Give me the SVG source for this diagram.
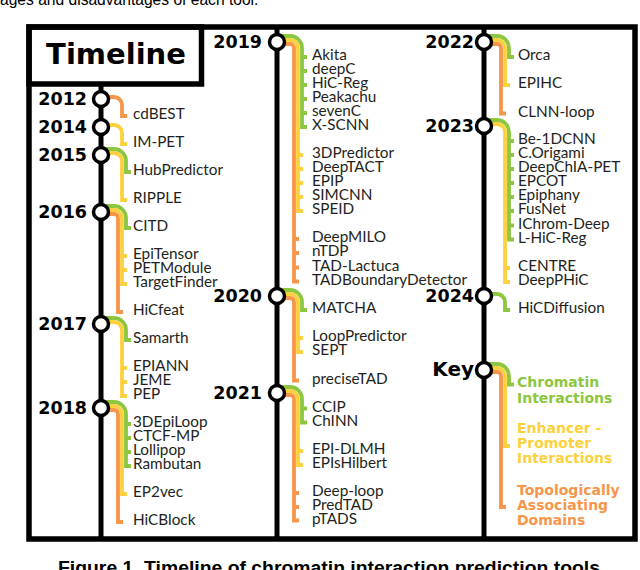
<svg xmlns="http://www.w3.org/2000/svg" width="640" height="570" viewBox="0 0 640 570">
<style>
.bg{fill:#fff}
.frame{fill:none;stroke:#000;stroke-width:5.5}
.col{stroke:#000;stroke-width:5;fill:none}
.node circle{fill:#fff;stroke:#000;stroke-width:3.5}
.yt{font-family:"DejaVu Sans",sans-serif;font-weight:bold;font-size:17.5px;fill:#000;text-anchor:end}
.lbl{font-family:Lato,"Noto Sans",sans-serif;font-size:15.3px;fill:#231f20}
.br{fill:none;stroke-width:3.8;stroke-linejoin:miter;stroke-linecap:butt}
.g{stroke:#8DC63F}
.y{stroke:#FDD13E}
.o{stroke:#F7964A}
.key{font-family:"DejaVu Sans",sans-serif;font-weight:bold;font-size:14px}
.kg{fill:#8DC63F}.ky{fill:#FDD13E}.ko{fill:#F7964A}
.cap{font-family:"Liberation Sans",Arial,sans-serif;fill:#000}
</style>
<rect class="bg" x="0" y="0" width="640" height="570"/>
<text class="cap" x="0" y="5" font-size="15.6">ages and disadvantages of each tool.</text>
<text class="cap" x="58" y="574" font-size="17.5" font-weight="bold" textLength="542" lengthAdjust="spacingAndGlyphs">Figure 1. Timeline of chromatin interaction prediction tools</text>

<g id="frame">
<rect class="frame" x="29" y="27" width="606" height="512"/>
<rect class="frame" x="29" y="27" width="172.5" height="57"/>
<text x="116" y="64" text-anchor="middle" font-family="DejaVu Sans,sans-serif" font-weight="bold" font-size="29" fill="#000">Timeline</text>
</g>

<g id="connectors">
<line class="col" x1="101" y1="84" x2="101" y2="539"/>
<line class="col" x1="277" y1="27" x2="277" y2="539"/>
<line class="col" x1="484" y1="27" x2="484" y2="539"/>

<!-- 2012 -->
<path class="br o" d="M101,97 H114 A8 8 0 0 1 122,105 V116 H127"/>
<!-- 2014 -->
<path class="br y" d="M101,125 H114 A8 8 0 0 1 122,133 V144 H127"/>
<!-- 2015 -->
<path class="br g" d="M101,149 H114 A12 12 0 0 1 126,161 V172 H131"/>
<path class="br y" d="M101,153 H114 A8 8 0 0 1 122,161 V200 H127"/>
<!-- 2016 -->
<path class="br g" d="M101,206 H114 A12 12 0 0 1 126,218 V228 H131"/>
<path class="br y" d="M101,210 H114 A8 8 0 0 1 122,218 V284 H127 M122,256 h5 M122,270 h5"/>
<path class="br o" d="M101,214 H114 A4 4 0 0 1 118,218 V312 H123"/>
<!-- 2017 -->
<path class="br g" d="M101,318 H114 A12 12 0 0 1 126,330 V340 H131"/>
<path class="br y" d="M101,322 H114 A8 8 0 0 1 122,330 V396 H127 M122,368 h5 M122,382 h5"/>
<!-- 2018 -->
<path class="br g" d="M101,402 H114 A12 12 0 0 1 126,414 V466 H131 M126,424 h5 M126,438 h5 M126,452 h5"/>
<path class="br y" d="M101,406 H114 A8 8 0 0 1 122,414 V494 H127"/>
<path class="br o" d="M101,410 H114 A4 4 0 0 1 118,414 V522 H123"/>

<!-- 2019 -->
<path class="br g" d="M277,36 H290 A12 12 0 0 1 302,48 V127 H307 M302,57 h5 M302,71 h5 M302,85 h5 M302,99 h5 M302,113 h5"/>
<path class="br y" d="M277,40 H290 A8 8 0 0 1 298,48 V211 H303 M298,155 h5 M298,169 h5 M298,183 h5 M298,197 h5"/>
<path class="br o" d="M277,44 H290 A4 4 0 0 1 294,48 V281.5 H299 M294,239 h5 M294,253 h5 M294,267.5 h5"/>
<!-- 2020 -->
<path class="br g" d="M277,290 H290 A12 12 0 0 1 302,302 V310 H307"/>
<path class="br y" d="M277,294 H290 A8 8 0 0 1 298,302 V352 H303 M298,338 h5"/>
<path class="br o" d="M277,298 H290 A4 4 0 0 1 294,302 V380.5 H299"/>
<!-- 2021 -->
<path class="br g" d="M277,387 H290 A12 12 0 0 1 302,399 V422.5 H307 M302,408.5 h5"/>
<path class="br y" d="M277,391 H290 A8 8 0 0 1 298,399 V465 H303 M298,451 h5"/>
<path class="br o" d="M277,395 H290 A4 4 0 0 1 294,399 V520.5 H299 M294,493 h5 M294,507 h5"/>

<!-- 2022 -->
<path class="br g" d="M484,36 H497 A12 12 0 0 1 509,48 V57 H514"/>
<path class="br y" d="M484,40 H497 A8 8 0 0 1 505,48 V85 H510"/>
<path class="br o" d="M484,44 H497 A4 4 0 0 1 501,48 V113.5 H506"/>
<!-- 2023 -->
<path class="br g" d="M484,120 H497 A12 12 0 0 1 509,132 V239.5 H514 M509,141 h5 M509,155 h5 M509,169 h5 M509,183 h5 M509,197 h5 M509,211 h5 M509,225.5 h5"/>
<path class="br y" d="M484,124 H497 A8 8 0 0 1 505,132 V282 H510 M505,268 h5"/>
<!-- 2024 -->
<path class="br g" d="M484,294 H497 A8 8 0 0 1 505,302 V310 H510"/>
<!-- Key -->
<path class="br g" d="M484,364 H497 A12 12 0 0 1 509,376 V384.5 H514"/>
<path class="br y" d="M484,368 H497 A8 8 0 0 1 505,376 V446 H510"/>
<path class="br o" d="M484,372 H497 A4 4 0 0 1 501,376 V507 H506"/>
</g>

<g id="y2012" class="node"><circle cx="101" cy="99" r="7.5"/><text class="yt" x="87" y="105">2012</text></g>
<g id="y2014" class="node"><circle cx="101" cy="127" r="7.5"/><text class="yt" x="87" y="133">2014</text></g>
<g id="y2015" class="node"><circle cx="101" cy="155" r="7.5"/><text class="yt" x="87" y="161">2015</text></g>
<g id="y2016" class="node"><circle cx="101" cy="212" r="7.5"/><text class="yt" x="87" y="218">2016</text></g>
<g id="y2017" class="node"><circle cx="101" cy="324" r="7.5"/><text class="yt" x="87" y="330">2017</text></g>
<g id="y2018" class="node"><circle cx="101" cy="408" r="7.5"/><text class="yt" x="87" y="414">2018</text></g>
<g id="y2019" class="node"><circle cx="277" cy="42" r="7.5"/><text class="yt" x="262" y="48">2019</text></g>
<g id="y2020" class="node"><circle cx="277" cy="296" r="7.5"/><text class="yt" x="262" y="302">2020</text></g>
<g id="y2021" class="node"><circle cx="277" cy="393" r="7.5"/><text class="yt" x="262" y="399">2021</text></g>
<g id="y2022" class="node"><circle cx="484" cy="42" r="7.5"/><text class="yt" x="474" y="48">2022</text></g>
<g id="y2023" class="node"><circle cx="484" cy="126" r="7.5"/><text class="yt" x="474" y="132">2023</text></g>
<g id="y2024" class="node"><circle cx="484" cy="296" r="7.5"/><text class="yt" x="474" y="302">2024</text></g>
<g id="key" class="node"><circle cx="484" cy="370" r="7.5"/><text class="yt" x="474" y="376" style="font-size:20px">Key</text></g>

<g id="tools-col1" class="lbl">
<text x="133" y="119">cdBEST</text>
<text x="133" y="147">IM-PET</text>
<text x="133" y="175">HubPredictor</text>
<text x="133" y="203">RIPPLE</text>
<text x="133" y="231">CITD</text>
<text x="133" y="259">EpiTensor</text>
<text x="133" y="273">PETModule</text>
<text x="133" y="287">TargetFinder</text>
<text x="133" y="315">HiCfeat</text>
<text x="133" y="343">Samarth</text>
<text x="133" y="371">EPIANN</text>
<text x="133" y="385">JEME</text>
<text x="133" y="399">PEP</text>
<text x="133" y="427">3DEpiLoop</text>
<text x="133" y="441">CTCF-MP</text>
<text x="133" y="455">Lollipop</text>
<text x="133" y="469">Rambutan</text>
<text x="133" y="497">EP2vec</text>
<text x="133" y="525">HiCBlock</text>
</g>

<g id="tools-col2" class="lbl">
<text x="312" y="60">Akita</text>
<text x="312" y="74">deepC</text>
<text x="312" y="88">HiC-Reg</text>
<text x="312" y="102">Peakachu</text>
<text x="312" y="116">sevenC</text>
<text x="312" y="130">X-SCNN</text>
<text x="312" y="158">3DPredictor</text>
<text x="312" y="172">DeepTACT</text>
<text x="312" y="186">EPIP</text>
<text x="312" y="200">SIMCNN</text>
<text x="312" y="214">SPEID</text>
<text x="312" y="242">DeepMILO</text>
<text x="312" y="256">nTDP</text>
<text x="312" y="270.5">TAD-Lactuca</text>
<text x="312" y="284.5">TADBoundaryDetector</text>
<text x="312" y="313">MATCHA</text>
<text x="312" y="341">LoopPredictor</text>
<text x="312" y="355">SEPT</text>
<text x="312" y="383.5">preciseTAD</text>
<text x="312" y="411.5">CCIP</text>
<text x="312" y="425.5">ChINN</text>
<text x="312" y="454">EPI-DLMH</text>
<text x="312" y="468">EPIsHilbert</text>
<text x="312" y="496">Deep-loop</text>
<text x="312" y="510">PredTAD</text>
<text x="312" y="523.5">pTADS</text>
</g>

<g id="tools-col3" class="lbl">
<text x="518" y="60">Orca</text>
<text x="518" y="88">EPIHC</text>
<text x="518" y="116.5">CLNN-loop</text>
<text x="518" y="144">Be-1DCNN</text>
<text x="518" y="158">C.Origami</text>
<text x="518" y="172">DeepChIA-PET</text>
<text x="518" y="186">EPCOT</text>
<text x="518" y="200">Epiphany</text>
<text x="518" y="214">FusNet</text>
<text x="518" y="228.5">IChrom-Deep</text>
<text x="518" y="242.5">L-HiC-Reg</text>
<text x="518" y="271">CENTRE</text>
<text x="518" y="285">DeepPHiC</text>
<text x="518" y="313">HiCDiffusion</text>
</g>

<g id="key-labels" class="key">
<text class="kg" x="517" y="387.3">Chromatin</text>
<text class="kg" x="517" y="402.7">Interactions</text>
<text class="ky" x="517" y="433.3">Enhancer -</text>
<text class="ky" x="517" y="448.3">Promoter</text>
<text class="ky" x="517" y="463.3">Interactions</text>
<text class="ko" x="517" y="495">Topologically</text>
<text class="ko" x="517" y="510">Associating</text>
<text class="ko" x="517" y="525">Domains</text>
</g>
</svg>
